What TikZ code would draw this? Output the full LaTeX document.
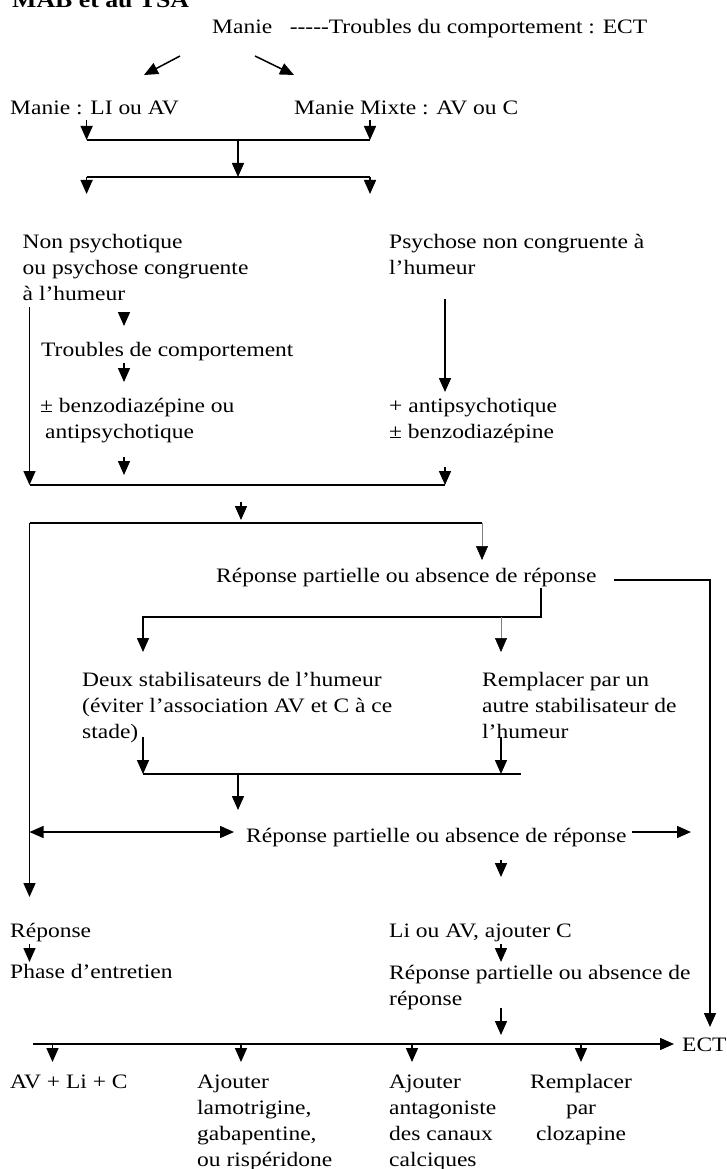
\documentclass[tikz,border=0pt]{standalone}
\usepackage{fontspec}
\setmainfont{Liberation Serif}[FakeStretch=1.146, Ligatures={TeXOff,CommonOff}]
\usetikzlibrary{arrows.meta}
\begin{document}
\begin{tikzpicture}[x=1pt,y=-1pt,
  txt/.style={inner sep=0pt, anchor=base west, align=left, font=\fontsize{20.5}{26}\selectfont},
  ctxt/.style={inner sep=0pt, anchor=base, align=center, font=\fontsize{20.5}{26}\selectfont},
  ln/.style={line width=1.6pt},
  arr/.style={line width=1.5pt, -{Triangle[length=14pt,width=12pt]}},
  biarr/.style={line width=1.5pt, {Triangle[length=14pt,width=12pt]}-{Triangle[length=14pt,width=12pt]}},
  thinarr/.style={line width=0.5pt, draw=gray, -{Triangle[length=14pt,width=12pt,color=black]}},
  thinln/.style={line width=0.5pt, draw=gray}]
\useasboundingbox (0,0) rectangle (726,1169);

% texts (for multi-line nodes the base anchor is the last line's baseline)
\node[txt, font=\bfseries\fontsize{22.5}{26}\selectfont] (title) at (12,8) {MAB et au TSA};
\node[txt] (manie) at (212,34) {Manie\ \ \ -----Troubles du comportement : ECT};
\node[txt] (mli) at (10,115) {Manie : LI ou AV};
\node[txt] (mmix) at (294,115) {Manie Mixte : AV ou C};
\node[txt] (nonpsy) at (22.5,300) {Non psychotique\\ou psychose congruente\\à l’humeur};
\node[txt] (psynon) at (389,274) {Psychose non congruente à\\l’humeur};
\node[txt] (troubles) at (41,356) {Troubles de comportement};
\node[txt] (benzo) at (40,438) {± benzodiazépine ou\\\hspace*{5pt}antipsychotique};
\node[txt] (antipsy) at (389,438) {+ antipsychotique\\± benzodiazépine};
\node[txt] (rep1) at (216,582) {Réponse partielle ou absence de réponse};
\node[txt] (deux) at (82,738) {Deux stabilisateurs de l’humeur\\(éviter l’association AV et C à ce\\stade)};
\node[txt] (rempl) at (482,738) {Remplacer par un\\autre stabilisateur de\\l’humeur};
\node[txt] (rep2) at (246,842) {Réponse partielle ou absence de réponse};
\node[txt] (reponse) at (10,937) {Réponse};
\node[txt] (phase) at (10,978) {Phase d’entretien};
\node[txt] (liav) at (389,937) {Li ou AV, ajouter C};
\node[txt] (rep3) at (389,1005) {Réponse partielle ou absence de\\réponse};
\node[txt] (ect) at (682,1051) {ECT};
\node[txt] (avlic) at (10,1088) {AV + Li + C};
\node[txt] (ajl) at (197,1166) {Ajouter\\lamotrigine,\\gabapentine,\\ou rispéridone};
\node[txt] (aja) at (389,1166) {Ajouter\\antagoniste\\des canaux\\calciques};
\node[ctxt] (rpc) at (581,1140) {Remplacer\\par\\clozapine};

% junction coordinates
\coordinate (d1s) at (180,56); \coordinate (d1e) at (144,75);
\coordinate (d2s) at (255,56); \coordinate (d2e) at (294,75);
\coordinate (b1ls) at (86.6,120); \coordinate (b1l) at (86.6,140);
\coordinate (b1rs) at (370,120); \coordinate (b1r) at (370,140);
\coordinate (b1m) at (238,140); \coordinate (b2m) at (238,177);
\coordinate (b2l) at (86.6,177); \coordinate (b2r) at (370,177);
\coordinate (b2le) at (86.6,194); \coordinate (b2re) at (370,194);
\coordinate (L1) at (29.5,307); \coordinate (L2) at (29.5,485);
\coordinate (c1s) at (124,312); \coordinate (c1e) at (124,326);
\coordinate (c2s) at (124,363); \coordinate (c2e) at (124,382);
\coordinate (c3s) at (124,457); \coordinate (c3e) at (124,475);
\coordinate (R1) at (445,299); \coordinate (R2) at (445,392);
\coordinate (R3) at (445,467); \coordinate (R4) at (445,485);
\coordinate (m1s) at (241,502); \coordinate (m1e) at (241,520);
\coordinate (bx1) at (29.5,523); \coordinate (bx2) at (482,523);
\coordinate (bx3) at (482,560); \coordinate (bx4) at (29.5,897);
\coordinate (e1) at (614,580); \coordinate (e2) at (710,580); \coordinate (e3) at (710,1027);
\coordinate (s1) at (541,588); \coordinate (s2) at (541,617);
\coordinate (s3) at (143,617); \coordinate (s4) at (143,652);
\coordinate (t1) at (501,617); \coordinate (t2) at (501,652);
\coordinate (u1) at (143,737); \coordinate (u2) at (143,774);
\coordinate (u3) at (501,737); \coordinate (u4) at (501,774);
\coordinate (h2) at (521,774);
\coordinate (v1) at (238,774); \coordinate (v2) at (238,810);
\coordinate (w1) at (29.5,832); \coordinate (w2) at (234,832);
\coordinate (w3) at (632,832); \coordinate (w4) at (691,832);
\coordinate (x1) at (501,860); \coordinate (x2) at (501,877);
\coordinate (y1) at (29.5,944); \coordinate (y2) at (29.5,962);
\coordinate (y3) at (501,944); \coordinate (y4) at (501,962);
\coordinate (y5) at (501,1008); \coordinate (y6) at (501,1035);
\coordinate (z0) at (33,1044); \coordinate (z9) at (674,1044);
\coordinate (za) at (52.5,1044); \coordinate (zae) at (52.5,1062);
\coordinate (zb) at (241,1044); \coordinate (zbe) at (241,1062);
\coordinate (zc) at (412,1044); \coordinate (zce) at (412,1062);
\coordinate (zd) at (581,1044); \coordinate (zde) at (581,1062);

% connectors
\draw[arr] (d1s) -- (d1e);
\draw[arr] (d2s) -- (d2e);
\draw[arr] (b1ls) -- (b1l);
\draw[arr] (b1rs) -- (b1r);
\draw[ln] (b1l) -- (b1r);
\draw[arr] (b1m) -- (b2m);
\draw[ln] (b2l) -- (b2r);
\draw[arr] (b2l) -- (b2le);
\draw[arr] (b2r) -- (b2re);
\draw[arr] (L1) -- (L2);
\draw[arr] (c1s) -- (c1e);
\draw[arr] (c2s) -- (c2e);
\draw[arr] (c3s) -- (c3e);
\draw[arr] (R1) -- (R2);
\draw[arr] (R3) -- (R4);
\draw[ln] (L2) -- (R4);
\draw[arr] (m1s) -- (m1e);
\draw[ln] (bx1) -- (bx2);
\draw[thinarr] (bx2) -- (bx3);
\draw[arr] (bx1) -- (bx4);
\draw[ln, -{Triangle[length=14pt,width=12pt]}] (e1) -- (e2) -- (e3);
\draw[ln, -{Triangle[length=14pt,width=12pt]}] (s1) -- (s2) -- (s3) -- (s4);
\draw[thinarr] (t1) -- (t2);
\draw[arr] (u1) -- (u2);
\draw[arr] (u3) -- (u4);
\draw[ln] (u2) -- (h2);
\draw[arr] (v1) -- (v2);
\draw[biarr] (w1) -- (w2);
\draw[arr] (w3) -- (w4);
\draw[arr] (x1) -- (x2);
\draw[arr] (y1) -- (y2);
\draw[arr] (y3) -- (y4);
\draw[arr] (y5) -- (y6);
\draw[arr] (z0) -- (z9);
\draw[arr] (za) -- (zae);
\draw[arr] (zb) -- (zbe);
\draw[arr] (zc) -- (zce);
\draw[arr] (zd) -- (zde);
\end{tikzpicture}
\end{document}
